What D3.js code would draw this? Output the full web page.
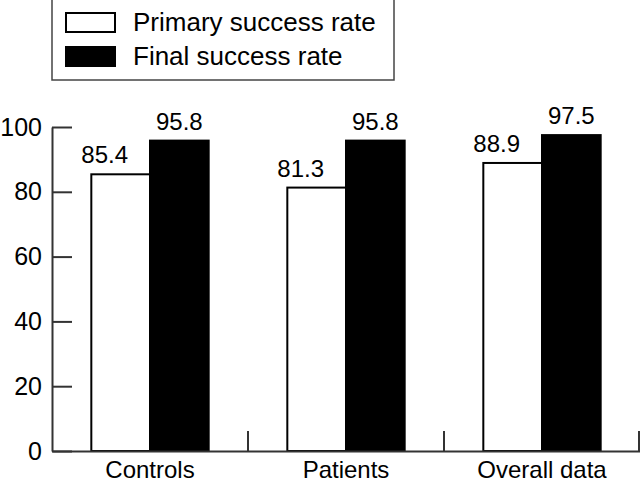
<!DOCTYPE html>
<html><head><meta charset="utf-8">
<script src="https://cdn.jsdelivr.net/npm/d3@7"></script>
<style>html,body{margin:0;padding:0;background:#fff;}svg{display:block;}</style>
</head><body>
<svg id="c" width="640" height="482"></svg>
<script>
const categories = ["Controls", "Patients", "Overall data"];
const seriesNames = ["Primary success rate", "Final success rate"];
const primaryRate = [85.4, 81.3, 88.9];
const finalRate = [95.8, 95.8, 97.5];
const yTicks = [0, 20, 40, 60, 80, 100];

const fills = ["#fff", "#000"];
const font = "'Liberation Sans', Arial, sans-serif";
const svg = d3.select("#c");

const plot = {left: 52, right: 640, top: 127, bottom: 451};
const x = d3.scaleBand().domain(categories).range([plot.left, plot.right]).padding(0);
const x1 = d3.scaleBand().domain(seriesNames).range([0, x.bandwidth()]).paddingInner(0).paddingOuter(0.67);
const y = d3.scaleLinear().domain([0, 100]).range([plot.bottom, plot.top]);

const data = categories.map((c, i) => ({cat: c, vals: [primaryRate[i], finalRate[i]]}));

// bars
const g = svg.append("g");
data.forEach(d => {
  d.vals.forEach((v, j) => {
    g.append("rect")
      .attr("x", x(d.cat) + x1(seriesNames[j]))
      .attr("y", y(v))
      .attr("width", x1.bandwidth())
      .attr("height", y(0) - y(v))
      .attr("fill", fills[j])
      .attr("stroke", "#000")
      .attr("stroke-width", 2);
    g.append("text")
      .attr("x", x(d.cat) + x1(seriesNames[j]) + x1.bandwidth() / 2 - (j === 0 ? 16 : 0))
      .attr("y", y(v) - 11)
      .attr("text-anchor", "middle")
      .attr("font-family", font)
      .attr("font-size", 24)
      .attr("fill", "#000")
      .text(v.toFixed(1));
  });
});

// y axis
const yAxis = d3.axisLeft(y).tickValues(yTicks).tickSizeInner(-20).tickSizeOuter(0).tickPadding(10);
const ya = svg.append("g").attr("transform", `translate(${plot.left},0)`).call(yAxis);
ya.select(".domain").attr("stroke", "#333").attr("stroke-width", 2);
ya.selectAll(".tick line").attr("stroke", "#333").attr("stroke-width", 2);
ya.selectAll(".tick text").attr("font-family", font).attr("font-size", 25).attr("fill", "#000");

// x axis
const xAxis = d3.axisBottom(x).tickSize(0).tickPadding(10);
const xa = svg.append("g").attr("transform", `translate(0,${plot.bottom})`).call(xAxis);
xa.select(".domain").attr("stroke", "#333").attr("stroke-width", 2);
xa.selectAll(".tick text").attr("font-family", font).attr("font-size", 24).attr("fill", "#000");
// category separator ticks
svg.append("g").selectAll("line").data(categories).join("line")
  .attr("x1", d => Math.min(x(d) + x.bandwidth(), plot.right - 1))
  .attr("x2", d => Math.min(x(d) + x.bandwidth(), plot.right - 1))
  .attr("y1", plot.bottom)
  .attr("y2", plot.bottom - 20)
  .attr("stroke", "#333").attr("stroke-width", 2);

// legend
const lg = svg.append("g");
lg.append("rect").attr("x", 52).attr("y", -2).attr("width", 342).attr("height", 82)
  .attr("fill", "#fff").attr("stroke", "#444").attr("stroke-width", 1.5);
seriesNames.forEach((s, j) => {
  lg.append("rect").attr("x", 66).attr("y", 13 + j * 34).attr("width", 49).attr("height", 19)
    .attr("fill", fills[j]).attr("stroke", "#000").attr("stroke-width", 2);
  lg.append("text").attr("x", 133).attr("y", 31 + j * 34)
    .attr("font-family", font).attr("font-size", 26).attr("fill", "#000").text(s);
});
</script>
</body></html>
